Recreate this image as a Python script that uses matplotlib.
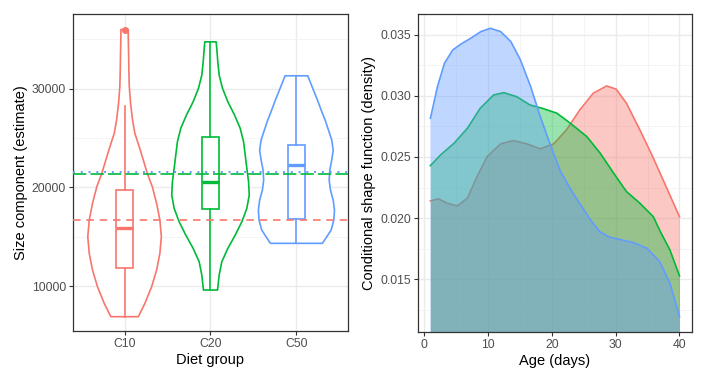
import numpy as np
from matplotlib import pyplot as plt
import matplotlib as mpl

mpl.rcParams["font.family"] = ["Liberation Sans", "DejaVu Sans"]

# colours of the three diet groups (ggplot hue)
groups = ["C10", "C20", "C50"]
cols = ["#F8766D", "#00BA38", "#619CFF"]

# violin outlines: y level, half width (x units)
c10_y = [6890, 8247, 9929, 11621, 13313, 14995, 16687, 18379, 20061, 21418, 22766, 24114, 25471, 26819, 28511,
         30193, 31885, 33577, 35259, 36000]
c10_w = [0.160, 0.237, 0.315, 0.373, 0.411, 0.428, 0.411, 0.373, 0.323, 0.265, 0.218, 0.171, 0.120, 0.093, 0.070,
         0.055, 0.050, 0.047, 0.043, 0.043]
c20_y = [9594, 11114, 12462, 13820, 15167, 16515, 17872, 19220, 20567, 21925, 23273, 24620, 25978, 27325, 28673,
         30031, 31378, 32726, 34084, 34750]
c20_w = [0.082, 0.101, 0.132, 0.202, 0.288, 0.365, 0.423, 0.451, 0.443, 0.423, 0.404, 0.385, 0.346, 0.28, 0.202,
         0.14, 0.101, 0.085, 0.073, 0.066]
c50_y = [14326, 14995, 15674, 16687, 17700, 18713, 19726, 20740, 21753, 22766, 23779, 24793, 25806, 26819, 27832,
         28845, 29858, 31307]
c50_w = [0.303, 0.353, 0.404, 0.435, 0.443, 0.428, 0.396, 0.381, 0.388, 0.411, 0.428, 0.411, 0.373, 0.334, 0.288,
         0.245, 0.198, 0.132]

# boxplot stats
whis_lo = [6890, 9630, 14330]
q1 = [11850, 17770, 16790]
med = [15880, 20570, 22230]
q3 = [19730, 25140, 24300]
whis_hi = [28250, 34730, 31290]
fliers = [[36000], [], []]

# group means (horizontal reference lines)
means = [16690, 21350, 21550]

# density curves (right panel)
age_c10 = [1.0, 2.3, 3.6, 5.2, 6.8, 8.3, 9.9, 12.0, 14.0, 16.1, 18.2, 20.3, 22.3, 24.4, 26.5, 28.6, 30.1, 31.7, 33.8, 35.8, 37.9, 40]
dens_c10 = [0.02141, 0.02157, 0.02122, 0.0210, 0.02163, 0.02339, 0.02503, 0.02607, 0.02634, 0.02607, 0.02566, 0.02607,
            0.02721, 0.02885, 0.03021, 0.03081, 0.03054, 0.02939, 0.02721, 0.02503, 0.02258, 0.02012]
age_c20 = [1.0, 2.6, 4.7, 6.8, 8.8, 10.9, 12.5, 14.5, 16.6, 18.5, 20.8, 22.9, 25.5, 27.6, 29.7, 31.7, 33.8, 35.9, 37.0, 38.5, 40]
dens_c20 = [0.02429, 0.02517, 0.02612, 0.02735, 0.02898, 0.03007, 0.03026, 0.02993, 0.02925, 0.02898, 0.02858, 0.02776,
            0.02666, 0.0253, 0.02367, 0.02217, 0.02122, 0.02012, 0.0189, 0.0174, 0.01528]
age_c50 = [1, 2.1, 3.2, 4.5, 5.8, 7.3, 8.9, 10.4, 12.0, 13.6, 15.1, 16.7, 18.2, 19.7, 21.3, 22.9, 24.5, 26.0, 27.5, 29.0,
           30.7, 32.8, 34.9, 36.9, 38.5, 40]
dens_c50 = [0.02816, 0.03075, 0.03266, 0.03375, 0.03424, 0.0347, 0.03525, 0.03552, 0.03525, 0.03443, 0.03293, 0.03075,
            0.0283, 0.0261, 0.0239, 0.0224, 0.0211, 0.0199, 0.0189, 0.01845, 0.01825, 0.0180, 0.01754, 0.01645, 0.01468, 0.01195]

fig = plt.figure(figsize=(7.06, 3.82), dpi=100)
ax1 = fig.add_axes([0.1034, 0.1335, 0.3895, 0.8298])
ax2 = fig.add_axes([0.592, 0.1309, 0.3881, 0.8325])


def style(ax):
    ax.set_axisbelow(True)
    for s in ax.spines.values():
        s.set_color("#333333")
        s.set_linewidth(0.9)
    ax.grid(which="major", color="#EBEBEB", lw=1.0)
    ax.grid(which="minor", color="#F2F2F2", lw=0.6)
    ax.tick_params(which="major", length=3, width=0.8, color="#333333", labelsize=8.8, labelcolor="#4D4D4D", pad=2)
    ax.tick_params(which="minor", length=0)


# ---- left panel: violins + boxes
style(ax1)
viol_y = [c10_y, c20_y, c50_y]
viol_w = [c10_w, c20_w, c50_w]
for i in range(3):
    pos = i + 1
    yy = np.array(viol_y[i])
    ww = np.array(viol_w[i])
    xs = np.concatenate([pos + ww, (pos - ww)[::-1]])
    ys = np.concatenate([yy, yy[::-1]])
    ax1.fill(xs, ys, facecolor="white", edgecolor=cols[i], lw=1.2, joinstyle="round", zorder=2)

    st = [dict(whislo=whis_lo[i], q1=q1[i], med=med[i], q3=q3[i], whishi=whis_hi[i], fliers=fliers[i])]
    ax1.bxp(st, positions=[pos], widths=0.2, showcaps=False, patch_artist=True,
            boxprops=dict(facecolor="white", edgecolor=cols[i], lw=1.2),
            whiskerprops=dict(color=cols[i], lw=1.2),
            medianprops=dict(color=cols[i], lw=2.4, solid_capstyle="butt"),
            flierprops=dict(marker="o", markerfacecolor=cols[i], markeredgecolor=cols[i], markersize=4),
            zorder=3)

ax1.axhline(means[0], color=cols[0], lw=1.2, dashes=(4.5, 3.5), zorder=4)
ax1.axhline(means[1], color=cols[1], lw=1.2, dashes=(8, 2.5), zorder=4)
ax1.axhline(means[2], color=cols[2], lw=1.4, dashes=(1, 3), zorder=4)

ax1.set_xlim(0.4, 3.6)
ax1.set_ylim(5440, 37570)
ax1.set_xticks([1, 2, 3])
ax1.set_xticklabels(groups)
ax1.set_yticks([10000, 20000, 30000])
ax1.set_yticks([15000, 25000, 35000], minor=True)
ax1.set_xlabel("Diet group", fontsize=10.5, labelpad=2)
ax1.set_ylabel("Size component (estimate)", fontsize=10.5, labelpad=3)

# ---- right panel: densities
style(ax2)
ages = [age_c10, age_c20, age_c50]
dens = [dens_c10, dens_c20, dens_c50]
for i in range(3):
    ax2.fill_between(ages[i], 0, dens[i], color=cols[i], alpha=0.4, lw=0, zorder=2)
    ax2.plot(ages[i], dens[i], color=cols[i], lw=1.2, solid_joinstyle="round", zorder=2)

ax2.set_xlim(-0.95, 41.95)
ax2.set_ylim(0.01069, 0.03669)
ax2.set_xticks([0, 10, 20, 30, 40])
ax2.set_xticks([5, 15, 25, 35], minor=True)
ax2.set_yticks([0.015, 0.020, 0.025, 0.030, 0.035])
ax2.set_yticklabels(["0.015", "0.020", "0.025", "0.030", "0.035"])
ax2.set_yticks([0.0125, 0.0175, 0.0225, 0.0275, 0.0325], minor=True)
ax2.set_xlabel("Age (days)", fontsize=10.5, labelpad=2)
ax2.set_ylabel("Conditional shape function (density)", fontsize=10.5, labelpad=3)

plt.savefig("out.png", dpi=100)
